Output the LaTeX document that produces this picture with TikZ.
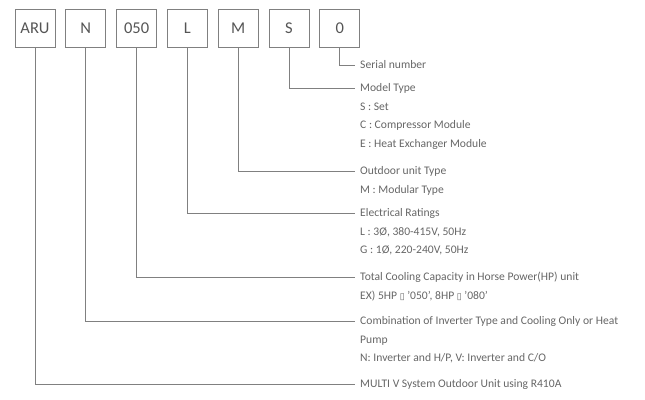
\documentclass[tikz,border=0pt]{standalone}
\usepackage{fontspec}
\setmainfont{Carlito}
\newfontfamily\symfont{DejaVu Sans}
\usepackage{tikz}
\usetikzlibrary{positioning}
\definecolor{linegray}{HTML}{808080}
\definecolor{txtgray}{HTML}{666666}
\definecolor{boxtxt}{HTML}{555555}
\tikzset{
  codebox/.style={rectangle, draw=linegray, line width=0.8pt, minimum width=40pt, minimum height=38pt, inner sep=0pt, text=boxtxt, font=\fontsize{16.5}{18}\selectfont},
  desc/.style={anchor=base west, xshift=5pt, yshift=-3.8pt, inner sep=0pt, align=left, text=txtgray, font=\fontsize{11.6}{18.5}\selectfont},
  extralines/.style={yshift=-#1*18.5pt},
  conn/.style={draw=linegray, line width=0.8pt},
}
\newcommand{\missglyph}{{\symfont\fontsize{9}{9}\selectfont ▯}}

\begin{document}
\begin{tikzpicture}[x=1pt, y=-1pt, node distance=10pt]
  \useasboundingbox (0,0) rectangle (645,399);
  % code boxes
  \node[codebox] (bARU) at (35,28) {ARU};
  \node[codebox, right=of bARU] (bN) {N};
  \node[codebox, right=of bN] (b050) {050};
  \node[codebox, right=of b050] (bL) {L};
  \node[codebox, right=of bL] (bM) {M};
  \node[codebox, right=of bM] (bS) {S};
  \node[codebox, right=of bS] (b0) {0};
  % line ends
  \coordinate (e0) at (355,65);
  \coordinate (eS) at (355,88);
  \coordinate (eM) at (355,171);
  \coordinate (eL) at (355,213);
  \coordinate (e050) at (355,277);
  \coordinate (eN) at (355,321);
  \coordinate (eARU) at (355,384);
  \draw[conn] (b0.south) |- (e0);
  \draw[conn] (bS.south) |- (eS);
  \draw[conn] (bM.south) |- (eM);
  \draw[conn] (bL.south) |- (eL);
  \draw[conn] (b050.south) |- (e050);
  \draw[conn] (bN.south) |- (eN);
  \draw[conn] (bARU.south) |- (eARU);
  % descriptions (base anchor sits on the last line)
  \node[desc] (d0) at (e0) {Serial number};
  \node[desc, extralines=3] (dS) at (eS) {Model Type\\
S : Set\\
C : Compressor Module\\
E : Heat Exchanger Module};
  \node[desc, extralines=1] (dM) at (eM) {Outdoor unit Type\\
M : Modular Type};
  \node[desc, extralines=2] (dL) at (eL) {Electrical Ratings\\
L : 3Ø, 380-415V, 50Hz\\
G : 1Ø, 220-240V, 50Hz};
  \node[desc, extralines=1] (d050) at (e050) {Total Cooling Capacity in Horse Power(HP) unit\\
EX) 5HP \missglyph\ '050', 8HP \missglyph\ '080'};
  \node[desc, extralines=2] (dN) at (eN) {Combination of Inverter Type and Cooling Only or Heat\\
Pump\\
N: Inverter and H/P, V: Inverter and C/O};
  \node[desc] (dARU) at (eARU) {MULTI V System Outdoor Unit using R410A};
\end{tikzpicture}
\end{document}
